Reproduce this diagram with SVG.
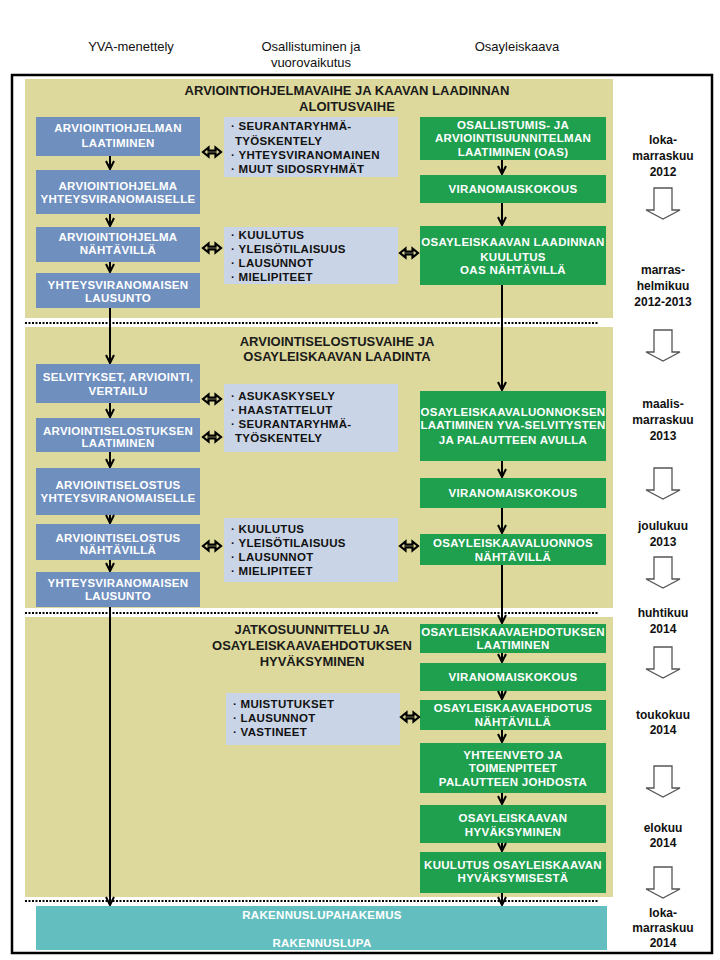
<svg xmlns="http://www.w3.org/2000/svg" xmlns:xlink="http://www.w3.org/1999/xlink" width="720" height="960" viewBox="0 0 720 960">
<style>
.panel{fill:#DDD99C}
.yva{fill:#6F8FBF}
.part{fill:#C9D5E7}
.osa{fill:#1FA04F}
.teal{fill:#63BFBF}
.wt{font-family:"Liberation Sans",Arial,sans-serif;font-weight:bold;font-size:11.5px;fill:#fff;text-anchor:middle;letter-spacing:0.3px}
.bt{font-family:"Liberation Sans",Arial,sans-serif;font-weight:bold;font-size:11.5px;fill:#111;letter-spacing:0.3px}
.title{font-family:"Liberation Sans",Arial,sans-serif;font-weight:bold;font-size:13px;fill:#1a1a1a;text-anchor:middle}
.hdr{font-family:"Liberation Sans",Arial,sans-serif;font-size:13px;fill:#111;text-anchor:middle}
.tl{font-family:"Liberation Sans",Arial,sans-serif;font-weight:bold;font-size:12px;fill:#111;text-anchor:middle}
.conn{stroke:#000;stroke-width:2;fill:none}
.dots{stroke:#000;stroke-width:2;stroke-dasharray:2 1.5;fill:none}
.darr{fill:none;stroke:#000;stroke-width:2.2;stroke-linejoin:miter}
.tarr{fill:#fff;stroke:#555;stroke-width:1.3}
</style>
<defs>
<marker id="ah" viewBox="0 0 10 10" refX="9" refY="5" markerWidth="10" markerHeight="10" markerUnits="userSpaceOnUse" orient="auto">
<path d="M1,1 L9,5 L1,9" fill="none" stroke="#000" stroke-width="2"/>
</marker>
<path id="dbl" class="darr" d="M0,0 L5.5,-4.5 L5.5,-1.3 L12.5,-1.3 L12.5,-4.5 L18,0 L12.5,4.5 L12.5,1.3 L5.5,1.3 L5.5,4.5 Z"/>
<path id="tarrow" class="tarr" d="M-9,0 H9 V22 H17 L0,31 L-17,22 H-9 Z"/>
</defs>
<rect width="720" height="960" fill="#fff"/>

<g id="headers">
<text class="hdr" x="131" y="51">YVA-menettely</text>
<text class="hdr" x="311" y="51">Osallistuminen ja</text>
<text class="hdr" x="311" y="67">vuorovaikutus</text>
<text class="hdr" x="517" y="51">Osayleiskaava</text>
</g>

<rect x="12" y="75" width="700" height="878" fill="none" stroke="#000" stroke-width="2.5"/>

<g id="panels">
<rect class="panel" x="25" y="79" width="588" height="239"/>
<rect class="panel" x="25" y="327" width="588" height="281"/>
<rect class="panel" x="25" y="617" width="588" height="280"/>
<text class="title" x="347" y="95">ARVIOINTIOHJELMAVAIHE JA KAAVAN LAADINNAN</text>
<text class="title" x="347" y="111">ALOITUSVAIHE</text>
<text class="title" x="337" y="346">ARVIOINTISELOSTUSVAIHE JA</text>
<text class="title" x="337" y="361">OSAYLEISKAAVAN LAADINTA</text>
<text class="title" x="312" y="634">JATKOSUUNNITTELU JA</text>
<text class="title" x="312" y="650">OSAYLEISKAAVAEHDOTUKSEN</text>
<text class="title" x="312" y="666">HYVÄKSYMINEN</text>
</g>

<g id="separators">
<line class="dots" x1="25" y1="323" x2="598" y2="323"/>
<line class="dots" x1="25" y1="613" x2="598" y2="613"/>
<line class="dots" x1="25" y1="901" x2="598" y2="901"/>
</g>

<!-- YVA column -->
<g id="yva1"><rect class="yva" x="36" y="117" width="164" height="39"/><text class="wt" x="118" y="132">ARVIOINTIOHJELMAN</text><text class="wt" x="118" y="147">LAATIMINEN</text></g>
<g id="yva2"><rect class="yva" x="36" y="170" width="164" height="44"/><text class="wt" x="118" y="190">ARVIOINTIOHJELMA</text><text class="wt" x="118" y="203">YHTEYSVIRANOMAISELLE</text></g>
<g id="yva3"><rect class="yva" x="36" y="227" width="164" height="35"/><text class="wt" x="118" y="241">ARVIOINTIOHJELMA</text><text class="wt" x="118" y="254">NÄHTÄVILLÄ</text></g>
<g id="yva4"><rect class="yva" x="36" y="273" width="164" height="35"/><text class="wt" x="118" y="289">YHTEYSVIRANOMAISEN</text><text class="wt" x="118" y="302">LAUSUNTO</text></g>
<g id="yva5"><rect class="yva" x="36" y="364" width="164" height="39"/><text class="wt" x="118" y="381">SELVITYKSET, ARVIOINTI,</text><text class="wt" x="118" y="395">VERTAILU</text></g>
<g id="yva6"><rect class="yva" x="36" y="418" width="164" height="34"/><text class="wt" x="118" y="435">ARVIOINTISELOSTUKSEN</text><text class="wt" x="118" y="447">LAATIMINEN</text></g>
<g id="yva7"><rect class="yva" x="36" y="468" width="164" height="47"/><text class="wt" x="118" y="489">ARVIOINTISELOSTUS</text><text class="wt" x="118" y="502">YHTEYSVIRANOMAISELLE</text></g>
<g id="yva8"><rect class="yva" x="36" y="524" width="164" height="36"/><text class="wt" x="118" y="542">ARVIOINTISELOSTUS</text><text class="wt" x="118" y="554">NÄHTÄVILLÄ</text></g>
<g id="yva9"><rect class="yva" x="36" y="572" width="164" height="35"/><text class="wt" x="118" y="587">YHTEYSVIRANOMAISEN</text><text class="wt" x="118" y="600">LAUSUNTO</text></g>

<!-- Participation column -->
<g id="part1"><rect class="part" x="224" y="117" width="174" height="60"/>
<text class="bt" x="231" y="130">· SEURANTARYHMÄ-</text>
<text class="bt" x="235" y="145">TYÖSKENTELY</text>
<text class="bt" x="231" y="159">· YHTEYSVIRANOMAINEN</text>
<text class="bt" x="231" y="173">· MUUT SIDOSRYHMÄT</text></g>
<g id="part2"><rect class="part" x="224" y="227" width="174" height="57"/>
<text class="bt" x="231" y="239">· KUULUTUS</text>
<text class="bt" x="231" y="253">· YLEISÖTILAISUUS</text>
<text class="bt" x="231" y="267">· LAUSUNNOT</text>
<text class="bt" x="231" y="281">· MIELIPITEET</text></g>
<g id="part3"><rect class="part" x="224" y="384" width="174" height="68"/>
<text class="bt" x="231" y="400">· ASUKASKYSELY</text>
<text class="bt" x="231" y="414">· HAASTATTELUT</text>
<text class="bt" x="231" y="428">· SEURANTARYHMÄ-</text>
<text class="bt" x="235" y="442">TYÖSKENTELY</text></g>
<g id="part4"><rect class="part" x="224" y="518" width="174" height="64"/>
<text class="bt" x="231" y="533">· KUULUTUS</text>
<text class="bt" x="231" y="547">· YLEISÖTILAISUUS</text>
<text class="bt" x="231" y="561">· LAUSUNNOT</text>
<text class="bt" x="231" y="575">· MIELIPITEET</text></g>
<g id="part5"><rect class="part" x="226" y="693" width="174" height="52"/>
<text class="bt" x="233" y="708">· MUISTUTUKSET</text>
<text class="bt" x="233" y="722">· LAUSUNNOT</text>
<text class="bt" x="233" y="736">· VASTINEET</text></g>

<!-- Osayleiskaava column -->
<g id="osa1"><rect class="osa" x="420" y="117" width="186" height="43"/><text class="wt" x="513" y="129">OSALLISTUMIS- JA</text><text class="wt" x="513" y="142">ARVIOINTISUUNNITELMAN</text><text class="wt" x="513" y="156">LAATIMINEN (OAS)</text></g>
<g id="osa2"><rect class="osa" x="420" y="175" width="186" height="28"/><text class="wt" x="513" y="193">VIRANOMAISKOKOUS</text></g>
<g id="osa3"><rect class="osa" x="420" y="226" width="186" height="59"/><text class="wt" x="513" y="246">OSAYLEISKAAVAN LAADINNAN</text><text class="wt" x="513" y="261">KUULUTUS</text><text class="wt" x="513" y="274">OAS NÄHTÄVILLÄ</text></g>
<g id="osa4"><rect class="osa" x="420" y="391" width="186" height="70"/><text class="wt" x="513" y="416">OSAYLEISKAAVALUONNOKSEN</text><text class="wt" x="513" y="429">LAATIMINEN YVA-SELVITYSTEN</text><text class="wt" x="513" y="444">JA PALAUTTEEN AVULLA</text></g>
<g id="osa5"><rect class="osa" x="420" y="478" width="186" height="30"/><text class="wt" x="513" y="497">VIRANOMAISKOKOUS</text></g>
<g id="osa6"><rect class="osa" x="420" y="534" width="186" height="31"/><text class="wt" x="513" y="547">OSAYLEISKAAVALUONNOS</text><text class="wt" x="513" y="561">NÄHTÄVILLÄ</text></g>
<g id="osa7"><rect class="osa" x="420" y="624" width="186" height="29"/><text class="wt" x="513" y="636">OSAYLEISKAAVAEHDOTUKSEN</text><text class="wt" x="513" y="649">LAATIMINEN</text></g>
<g id="osa8"><rect class="osa" x="420" y="663" width="186" height="28"/><text class="wt" x="513" y="681">VIRANOMAISKOKOUS</text></g>
<g id="osa9"><rect class="osa" x="420" y="700" width="186" height="30"/><text class="wt" x="513" y="712">OSAYLEISKAAVAEHDOTUS</text><text class="wt" x="513" y="726">NÄHTÄVILLÄ</text></g>
<g id="osa10"><rect class="osa" x="420" y="743" width="186" height="50"/><text class="wt" x="513" y="759">YHTEENVETO JA</text><text class="wt" x="513" y="772">TOIMENPITEET</text><text class="wt" x="513" y="786">PALAUTTEEN JOHDOSTA</text></g>
<g id="osa11"><rect class="osa" x="420" y="805" width="186" height="38"/><text class="wt" x="513" y="822">OSAYLEISKAAVAN</text><text class="wt" x="513" y="836">HYVÄKSYMINEN</text></g>
<g id="osa12"><rect class="osa" x="420" y="852" width="186" height="41"/><text class="wt" x="513" y="869">KUULUTUS OSAYLEISKAAVAN</text><text class="wt" x="513" y="882">HYVÄKSYMISESTÄ</text></g>

<g id="rakennuslupa"><rect class="teal" x="36" y="906" width="571" height="44"/><text class="wt" x="322" y="919">RAKENNUSLUPAHAKEMUS</text><text class="wt" x="322" y="947">RAKENNUSLUPA</text></g>

<g id="connectors">
<line class="conn" x1="110" y1="156" x2="110" y2="169" marker-end="url(#ah)"/>
<line class="conn" x1="110" y1="214" x2="110" y2="226" marker-end="url(#ah)"/>
<line class="conn" x1="110" y1="262" x2="110" y2="272" marker-end="url(#ah)"/>
<line class="conn" x1="110" y1="308" x2="110" y2="363" marker-end="url(#ah)"/>
<line class="conn" x1="110" y1="403" x2="110" y2="417" marker-end="url(#ah)"/>
<line class="conn" x1="110" y1="452" x2="110" y2="467" marker-end="url(#ah)"/>
<line class="conn" x1="110" y1="515" x2="110" y2="523" marker-end="url(#ah)"/>
<line class="conn" x1="110" y1="560" x2="110" y2="571" marker-end="url(#ah)"/>
<line class="conn" x1="110" y1="607" x2="110" y2="905" marker-end="url(#ah)"/>
<line class="conn" x1="502" y1="160" x2="502" y2="174" marker-end="url(#ah)"/>
<line class="conn" x1="502" y1="203" x2="502" y2="225" marker-end="url(#ah)"/>
<line class="conn" x1="502" y1="285" x2="502" y2="390" marker-end="url(#ah)"/>
<line class="conn" x1="502" y1="461" x2="502" y2="477" marker-end="url(#ah)"/>
<line class="conn" x1="502" y1="508" x2="502" y2="533" marker-end="url(#ah)"/>
<line class="conn" x1="502" y1="565" x2="502" y2="623" marker-end="url(#ah)"/>
<line class="conn" x1="502" y1="653" x2="502" y2="662" marker-end="url(#ah)"/>
<line class="conn" x1="502" y1="691" x2="502" y2="699" marker-end="url(#ah)"/>
<line class="conn" x1="502" y1="730" x2="502" y2="742" marker-end="url(#ah)"/>
<line class="conn" x1="502" y1="793" x2="502" y2="804" marker-end="url(#ah)"/>
<line class="conn" x1="502" y1="843" x2="502" y2="851" marker-end="url(#ah)"/>
<line class="conn" x1="502" y1="893" x2="502" y2="905" marker-end="url(#ah)"/>
<use xlink:href="#dbl" href="#dbl" x="203" y="152"/>
<use xlink:href="#dbl" href="#dbl" x="203" y="248"/>
<use xlink:href="#dbl" href="#dbl" x="400" y="253"/>
<use xlink:href="#dbl" href="#dbl" x="203" y="399"/>
<use xlink:href="#dbl" href="#dbl" x="203" y="437"/>
<use xlink:href="#dbl" href="#dbl" x="203" y="546"/>
<use xlink:href="#dbl" href="#dbl" x="400" y="546"/>
<use xlink:href="#dbl" href="#dbl" x="401" y="717"/>
</g>

<g id="timeline">
<text class="tl" x="663" y="144">loka-</text>
<text class="tl" x="663" y="160">marraskuu</text>
<text class="tl" x="663" y="176">2012</text>
<use xlink:href="#tarrow" href="#tarrow" x="663" y="188"/>
<text class="tl" x="663" y="274">marras-</text>
<text class="tl" x="663" y="290">helmikuu</text>
<text class="tl" x="663" y="306">2012-2013</text>
<use xlink:href="#tarrow" href="#tarrow" x="663" y="330"/>
<text class="tl" x="663" y="408">maalis-</text>
<text class="tl" x="663" y="424">marraskuu</text>
<text class="tl" x="663" y="440">2013</text>
<use xlink:href="#tarrow" href="#tarrow" x="663" y="468"/>
<text class="tl" x="663" y="530">joulukuu</text>
<text class="tl" x="663" y="546">2013</text>
<use xlink:href="#tarrow" href="#tarrow" x="663" y="557"/>
<text class="tl" x="663" y="617">huhtikuu</text>
<text class="tl" x="663" y="633">2014</text>
<use xlink:href="#tarrow" href="#tarrow" x="663" y="647"/>
<text class="tl" x="663" y="719">toukokuu</text>
<text class="tl" x="663" y="734">2014</text>
<use xlink:href="#tarrow" href="#tarrow" x="663" y="766"/>
<text class="tl" x="663" y="832">elokuu</text>
<text class="tl" x="663" y="847">2014</text>
<use xlink:href="#tarrow" href="#tarrow" x="663" y="867"/>
<text class="tl" x="663" y="917">loka-</text>
<text class="tl" x="663" y="932">marraskuu</text>
<text class="tl" x="663" y="947">2014</text>
</g>
</svg>
